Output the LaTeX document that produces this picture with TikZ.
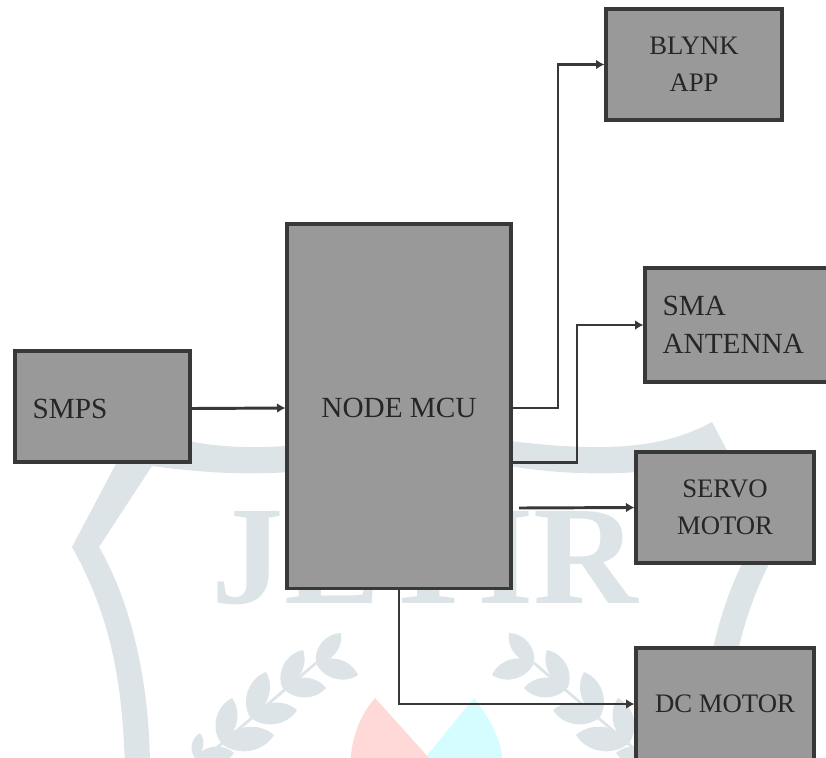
\documentclass[tikz,border=0pt]{standalone}
\usepackage{fontspec}
\setmainfont{Liberation Serif}
\usetikzlibrary{positioning,arrows.meta}
\definecolor{boxgray}{HTML}{999999}
\definecolor{edgegray}{HTML}{383838}
\definecolor{inkgray}{HTML}{262626}
\definecolor{markblue}{HTML}{DDE4E8}
\definecolor{markpink}{HTML}{FFD8D8}
\definecolor{markcyan}{HTML}{D5FDFF}

\begin{document}
\begin{tikzpicture}[
    x=0.025cm, y=-0.025cm,
    box/.style={draw=edgegray, fill=boxgray, line width=2.2pt, text=inkgray, align=center, inner sep=0pt,
        font=\fontsize{20.8}{26.6}\selectfont},
    smallbox/.style={box, font=\fontsize{19}{26.6}\selectfont},
    leftbox/.style={box, align=left, inner xsep=0.44cm},
    conn/.style={draw=edgegray, line width=2.1pt, -{Latex[length=6pt,width=7pt]}}
]
\useasboundingbox (0,0) rectangle (826,757);
\clip (0,0) rectangle (826,757);
% watermark
\node[text=markblue, font=\fontsize{100}{100}\selectfont\bfseries, xscale=1.03, anchor=base, inner sep=0pt] (mark) at (425,603) {JETIR};
\foreach \s in {1,-1} {
\begin{scope}[shift={(425,0)}, xscale=\s]
\fill[markblue] (-300,770) .. controls (-302,690) and (-312,620) .. (-353,547) -- (-287,422)
    .. controls (-235,450) and (-170,458) .. (0,428) -- (0,448)
    .. controls (-100,474) and (-170,480) .. (-273,466) -- (-326,547)
    .. controls (-295,600) and (-275,680) .. (-275,770) -- cycle;
\draw[markblue, line width=2pt] (-109,663) -- (-240,775);
\foreach \bx/\by/\tx/\ty/\ux/\uy in {
    -109/663/-84/633/-67/675,
    -143/687/-122/650/-99/688,
    -175/717/-159/672/-128/710,
    -204/743/-193/698/-151/735,
    -230/758/-225/733/-191/753} {
    \fill[markblue] (\bx,\by) to[bend left=50] (\tx,\ty) to[bend left=50] (\bx,\by);
    \fill[markblue] (\bx,\by) to[bend left=50] (\ux,\uy) to[bend left=50] (\bx,\by);
}
\end{scope}
}
\fill[markcyan] (474,698) .. controls (495,725) and (503,745) .. (503,770) -- (415,770) -- cycle;
\fill[markpink] (350,770) .. controls (350,740) and (360,715) .. (375,698) -- (440,770) -- cycle;
% blocks
\node[leftbox, minimum width=4.375cm, minimum height=2.775cm, text width=3.495cm, text height=16.6pt] (smps) at (102.5,406.5) {SMPS};
\node[box, minimum width=5.6cm, minimum height=9.1cm, text height=16.6pt] (mcu) at (399,406) {NODE MCU};
\node[smallbox, minimum width=4.4cm, minimum height=2.775cm] (blynk) at (694,64.5) {BLYNK\\APP};
\node[leftbox, minimum width=4.625cm, minimum height=2.85cm, text width=3.745cm] (sma) at (737.5,325) {SMA\\ANTENNA};
\node[smallbox, minimum width=4.45cm, minimum height=2.775cm] (servo) at (725,507.5) {SERVO\\MOTOR};
\node[smallbox, minimum width=4.45cm, minimum height=2.8cm] (dc) at (725,704) {DC MOTOR};
\coordinate (servoout) at (519,508);
% connections
\draw[conn] ([yshift=-0.05cm]smps.east) -- ([yshift=-0.05cm]mcu.west);
\draw[conn] ([yshift=-0.05cm]mcu.east) -| (558,64.5) -- (blynk.west);
\draw[conn] ([yshift=-1.4cm]mcu.east) -| (577,325) -- (sma.west);
\draw[conn] (servoout) -- (servo.west);
\draw[conn] (mcu.south) |- (dc.west);
\end{tikzpicture}
\end{document}
